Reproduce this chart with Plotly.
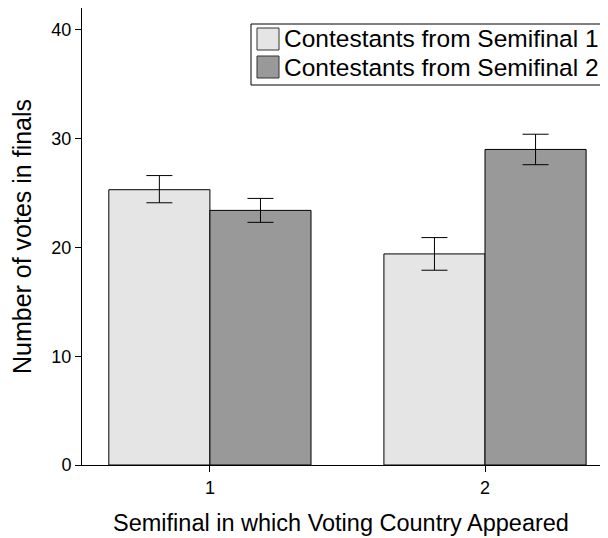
import plotly.graph_objects as go

categories = ["1", "2"]
series_names = ["Contestants from Semifinal 1", "Contestants from Semifinal 2"]
semi1_values = [25.3, 19.4]
semi1_err_plus = [1.3, 1.5]
semi1_err_minus = [1.2, 1.5]
semi2_values = [23.4, 29.0]
semi2_err_plus = [1.1, 1.4]
semi2_err_minus = [1.1, 1.4]
y_ticks = [0, 10, 20, 30, 40]
colors = ["#e5e5e5", "#999999"]

FONT = "Liberation Sans, Arial, Helvetica, sans-serif"

# figure is offset by the page's 8px body margin
W, H = 600, 530
L, R, T, B = 74, 8, 0, 73
PW, PH = W - L - R, H - T - B


def px(x):
    return (x - 8 - L) / PW


def py(y):
    return 1 - (y - 8 - T) / PH


fig = go.Figure()
for name, vals, ep, em, color in [
    (series_names[0], semi1_values, semi1_err_plus, semi1_err_minus, colors[0]),
    (series_names[1], semi2_values, semi2_err_plus, semi2_err_minus, colors[1]),
]:
    fig.add_trace(go.Bar(
        x=categories, y=vals, name=name,
        marker=dict(color=color, line=dict(color="black", width=1)),
        error_y=dict(type="data", array=ep, arrayminus=em, color="black",
                     thickness=1, width=13),
        showlegend=False,
    ))

# legend box drawn manually (square swatches like the reference)
shapes = [dict(type="rect", xref="paper", yref="paper",
               x0=px(251), x1=px(603), y0=py(85), y1=py(24),
               line=dict(color="black", width=1), fillcolor="white", layer="above")]
annotations = []
for i, (name, color) in enumerate(zip(series_names, colors)):
    top = 28 + i * 28
    shapes.append(dict(type="rect", xref="paper", yref="paper",
                       x0=px(257), x1=px(279), y0=py(top + 22), y1=py(top),
                       line=dict(color="#333333", width=1), fillcolor=color, layer="above"))
    annotations.append(dict(xref="paper", yref="paper", x=px(282), y=py(top + 11),
                            xanchor="left", yanchor="middle", text=name, showarrow=False,
                            font=dict(size=24.5, family=FONT, color="black")))

fig.update_layout(
    width=W, height=H,
    margin=dict(l=L, r=R, t=T, b=B),
    plot_bgcolor="white", paper_bgcolor="white",
    barmode="group", bargap=0.265, bargroupgap=0,
    font=dict(family=FONT, color="black", size=18),
    shapes=shapes, annotations=annotations,
    xaxis=dict(
        type="category", range=[-0.465, 1.418],
        showline=True, linecolor="black", linewidth=1,
        ticks="outside", ticklen=6, tickcolor="black",
        showgrid=False, zeroline=False,
        title=dict(text="Semifinal in which Voting Country Appeared",
                   font=dict(size=23.5), standoff=17),
        tickfont=dict(size=18),
    ),
    yaxis=dict(
        range=[0, 42], tickvals=y_ticks,
        showline=True, linecolor="black", linewidth=1,
        ticks="outside", ticklen=6, tickcolor="black",
        showgrid=False, zeroline=False,
        title=dict(text="Number of votes in finals", font=dict(size=25), standoff=12),
        tickfont=dict(size=18),
    ),
)

fig.write_html("out.html")
